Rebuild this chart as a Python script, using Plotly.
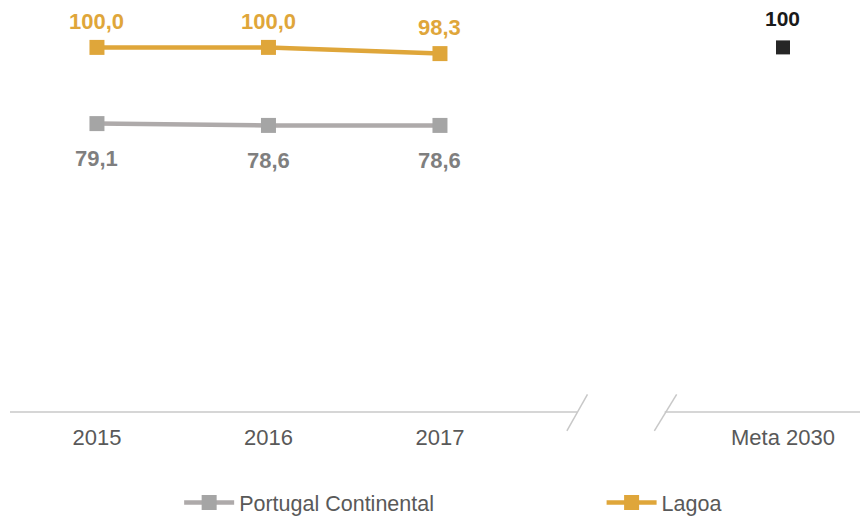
import plotly.graph_objects as go

categories = ["2015", "2016", "2017"]
meta_label = "Meta 2030"
portugal = [79.1, 78.6, 78.6]
lagoa = [100.0, 100.0, 98.3]
meta_value = [100]
portugal_labels = ["79,1", "78,6", "78,6"]
lagoa_labels = ["100,0", "100,0", "98,3"]
meta_labels = ["100"]

xpos = list(range(len(categories)))
meta_x = [len(categories) + 1]

GREY_LINE = "#AEAAAA"
GREY_MARK = "#A5A5A5"
GREY_TEXT = "#7F7F7F"
ORANGE = "#DFA63A"
DARK = "#262626"
FONT = "Liberation Sans, Arial"

fig = go.Figure()
fig.add_trace(go.Scatter(
    x=xpos, y=portugal, name="Portugal Continental", mode="lines+markers",
    line=dict(color=GREY_LINE, width=4.5),
    marker=dict(symbol="square", size=15, color=GREY_MARK),
    hoverinfo="skip", legend="legend"))
fig.add_trace(go.Scatter(
    x=xpos, y=lagoa, name="Lagoa", mode="lines+markers",
    line=dict(color=ORANGE, width=4.5),
    marker=dict(symbol="square", size=15, color=ORANGE),
    hoverinfo="skip", legend="legend2"))
fig.add_trace(go.Scatter(
    x=meta_x, y=meta_value, name="Meta", mode="markers", showlegend=False,
    marker=dict(symbol="square", size=14, color=DARK),
    hoverinfo="skip"))

annotations = []
for x, y, t in zip(xpos, lagoa, lagoa_labels):
    annotations.append(dict(x=x, y=y, text=t, showarrow=False, yshift=26,
                            font=dict(family=FONT, size=22, color=ORANGE, weight="bold")))
for x, y, t in zip(xpos, portugal, portugal_labels):
    annotations.append(dict(x=x, y=y, text=t, showarrow=False, yshift=-35,
                            font=dict(family=FONT, size=22, color=GREY_TEXT, weight="bold")))
for x, y, t in zip(meta_x, meta_value, meta_labels):
    annotations.append(dict(x=x, y=y, text=t, showarrow=False, yshift=29,
                            font=dict(family=FONT, size=21, color="#1A1A1A", weight="bold")))

xmin, xmax = -0.507, 4.449
AX = "#D6D6D6"
shapes = [
    dict(type="line", xref="x", yref="paper", x0=xmin, x1=2.80, y0=0, y1=0, line=dict(color=AX, width=2)),
    dict(type="line", xref="x", yref="paper", x0=3.31, x1=xmax, y0=0, y1=0, line=dict(color=AX, width=2)),
    dict(type="line", xref="x", yref="paper", x0=2.74, x1=2.86, y0=-0.046, y1=0.043, line=dict(color="#C8C8C8", width=1.5)),
    dict(type="line", xref="x", yref="paper", x0=3.25, x1=3.38, y0=-0.046, y1=0.043, line=dict(color="#C8C8C8", width=1.5)),
]

fig.update_layout(
    width=861, height=519,
    margin=dict(l=10, r=1, t=0, b=107, autoexpand=False),
    plot_bgcolor="white", paper_bgcolor="white",
    font=dict(family=FONT, color="#595959"),
    xaxis=dict(range=[xmin, xmax], tickvals=xpos + meta_x, ticktext=categories + [meta_label],
               showgrid=False, zeroline=False, showline=False, ticks="outside", ticklen=6,
               tickcolor="rgba(0,0,0,0)",
               tickfont=dict(size=22, color="#595959")),
    yaxis=dict(range=[0, 113], visible=False, showgrid=False, zeroline=False),
    showlegend=True,
    legend=dict(orientation="h", x=0.199, xanchor="left", y=-0.22, yanchor="middle",
                font=dict(size=21.5, color="#595959"), itemwidth=50),
    legend2=dict(orientation="h", x=0.696, xanchor="left", y=-0.22, yanchor="middle",
                 font=dict(size=21.5, color="#595959"), itemwidth=50),
    annotations=annotations,
    shapes=shapes,
)

fig.write_html("out.html", config={"displayModeBar": False},
               post_script="document.body.style.margin='0';")
